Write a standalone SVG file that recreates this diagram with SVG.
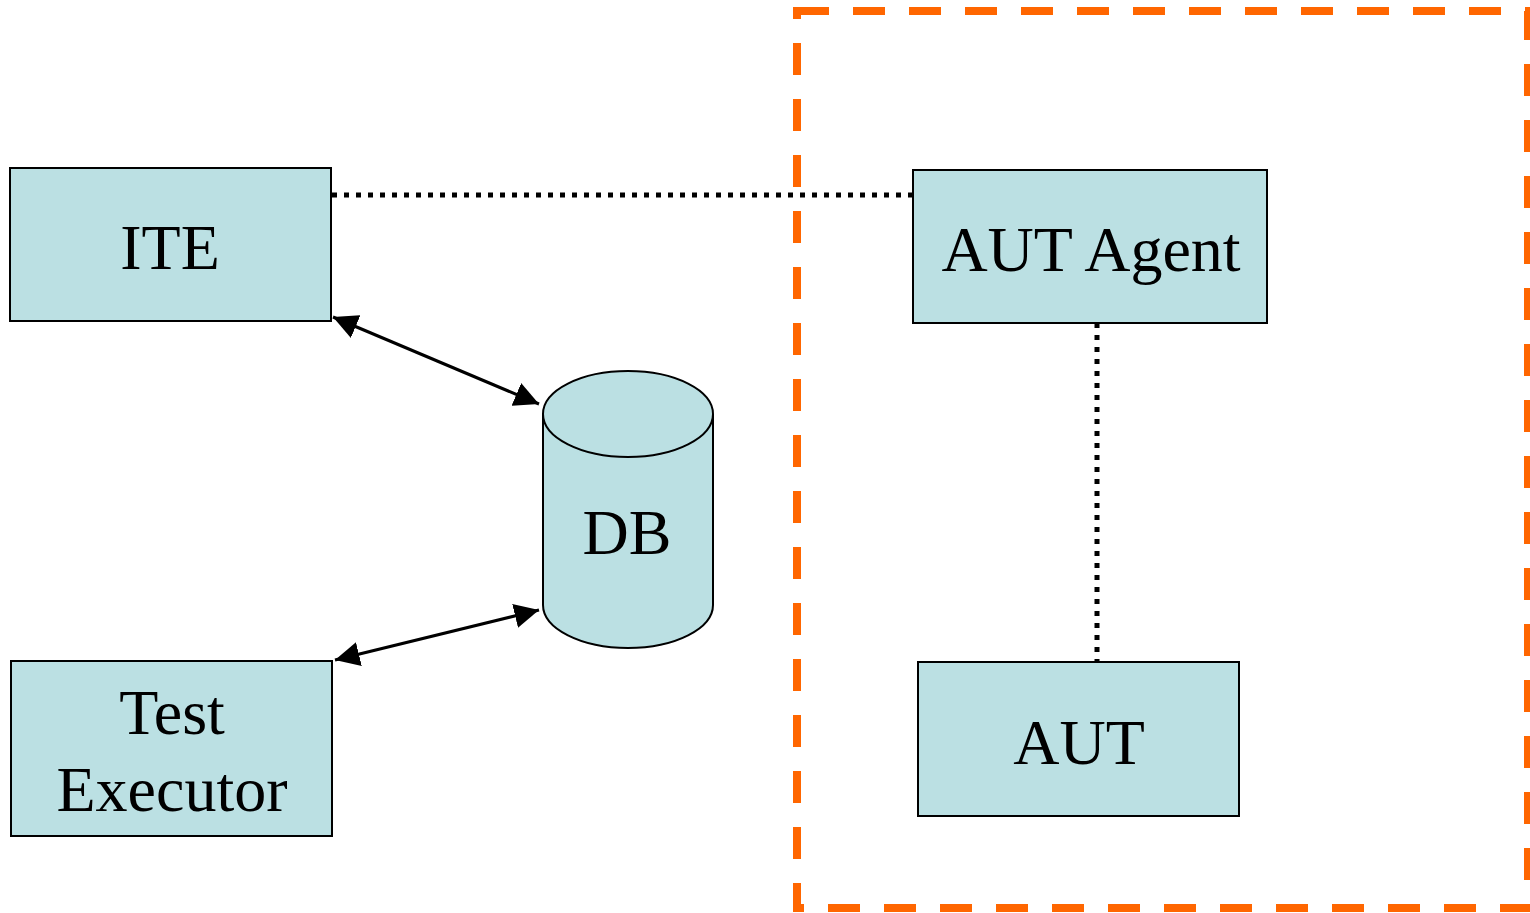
<svg xmlns="http://www.w3.org/2000/svg" width="1530" height="913" viewBox="0 0 1530 913">
<style>
.box{fill:#BBE0E3;stroke:#000;stroke-width:2}
.lbl{font-family:"Liberation Serif","Times New Roman",serif;font-size:64px;fill:#000;text-anchor:middle}
.dot{stroke:#000;stroke-width:5;stroke-dasharray:5 7;fill:none}
.arr{stroke:#000;stroke-width:3;fill:none;marker-start:url(#ah);marker-end:url(#ah)}
</style>
<defs>
<marker id="ah" viewBox="0 0 12 12" refX="12" refY="6" markerWidth="8.2" markerHeight="8.2" markerUnits="strokeWidth" orient="auto-start-reverse">
<path d="M0,0 L12,6 L0,12 z" fill="#000"/>
</marker>
</defs>
<rect x="797" y="11" width="731" height="897" fill="none" stroke="#FF6600" stroke-width="8" stroke-dasharray="32 24"/>
<g id="connectors">
<line class="dot" x1="332" y1="195" x2="913" y2="195"/>
<line class="dot" x1="1097" y1="323" x2="1097" y2="662"/>
<line class="arr" x1="333" y1="317" x2="539" y2="404"/>
<line class="arr" x1="335" y1="660" x2="539" y2="610"/>
</g>
<g id="ITE">
<rect class="box" x="10" y="168" width="321" height="153"/>
<text class="lbl" x="170" y="269">ITE</text>
</g>
<g id="AUTAgent">
<rect class="box" x="913" y="170" width="354" height="153"/>
<text class="lbl" x="1091" y="271">AUT Agent</text>
</g>
<g id="DB">
<path class="box" d="M543,414 L543,605 A85,43 0 0 0 713,605 L713,414 A85,43 0 0 0 543,414 Z"/>
<path class="box" d="M543,414 A85,43 0 0 0 713,414" fill="none"/>
<text class="lbl" x="627" y="554">DB</text>
</g>
<g id="TestExecutor">
<rect class="box" x="11" y="661" width="321" height="175"/>
<text class="lbl" x="172" y="734">Test</text>
<text class="lbl" x="172" y="811">Executor</text>
</g>
<g id="AUT">
<rect class="box" x="918" y="662" width="321" height="154"/>
<text class="lbl" x="1079" y="764">AUT</text>
</g>
</svg>
